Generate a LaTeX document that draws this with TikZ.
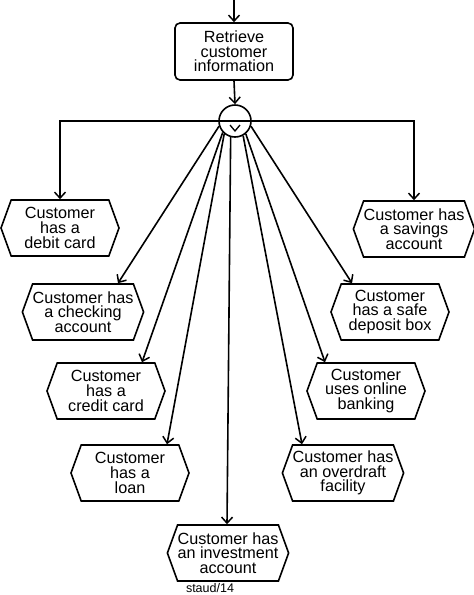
\documentclass[tikz,border=0pt]{standalone}
\usepackage{fontspec}
\setmainfont{Liberation Sans}
\usetikzlibrary{arrows.meta,shapes.symbols,calc}
\begin{document}
\begin{tikzpicture}[x=1pt,y=-1pt,
  line width=1.6pt,
  arr/.style={-{Straight Barb[length=6pt,width=11pt,line width=1.5pt]}},
  txt/.style={align=center,font=\fontsize{16.2}{14.6}\selectfont},
  hexa/.style={signal, signal to=west and east, signal pointer angle=140,
    draw, line width=1.6pt, minimum width=118pt, minimum height=56pt,
    inner sep=0pt, txt},
  task/.style={draw, rounded corners=5pt, line width=1.6pt,
    minimum width=118pt, minimum height=57pt, inner sep=0pt, txt},
  opnode/.style={circle, draw, line width=1.6pt, minimum size=32pt, inner sep=0pt}]
\useasboundingbox (0,0) rectangle (474,595);

\coordinate (in) at (234,0);
\node[task] (retr) at (234,51.5) {Retrieve\\customer\\information};
\node[opnode] (op) at (235,121) {};
\draw (op.west) -- (op.east);
\draw[line width=1.3pt] ($(op.center)+(-5,4)$) -- ($(op.center)+(0,10)$) -- ($(op.center)+(5,4)$);

\node[hexa] (debit) at (60,228) {Customer\\has a\\debit card};
\node[hexa] (savings) at (414,229) {Customer has\\a savings\\account};
\node[hexa] (checking) at (83,312) {Customer has\\a checking\\account};
\node[hexa] (credit) at (106,391) {Customer\\has a\\credit card};
\node[hexa] (loan) at (130,473) {Customer\\has a\\loan};
\node[hexa] (safe) at (390,312) {Customer\\has a safe\\deposit box};
\node[hexa] (online) at (366,391) {Customer\\uses online\\banking};
\node[hexa] (overdraft) at (343,473) {Customer has\\an overdraft\\facility};
\node[hexa] (invest) at (228,553) {Customer has\\an investment\\account};
\node[font=\fontsize{12.5}{14}\selectfont] (sig) at (210,588) {staud/14};

\draw[arr] (in) -- (retr.north);
\draw[arr] (retr.south) -- (op.north);
\draw[arr] (op.west) -| (debit.north);
\draw[arr] (op.east) -| (savings.north);
\draw[arr] (op.198) -- ([xshift=35pt]checking.north);
\draw[arr] (op.223) -- ([xshift=36pt]credit.north);
\draw[arr] (op.230) -- ([xshift=37pt]loan.north);
\draw[arr] (op.255) -- ([xshift=-1pt]invest.north);
\draw[arr] (op.299) -- ([xshift=-41pt]overdraft.north);
\draw[arr] (op.310) -- ([xshift=-41pt]online.north);
\draw[arr] (op.342) -- ([xshift=-38pt]safe.north);
\end{tikzpicture}
\end{document}
